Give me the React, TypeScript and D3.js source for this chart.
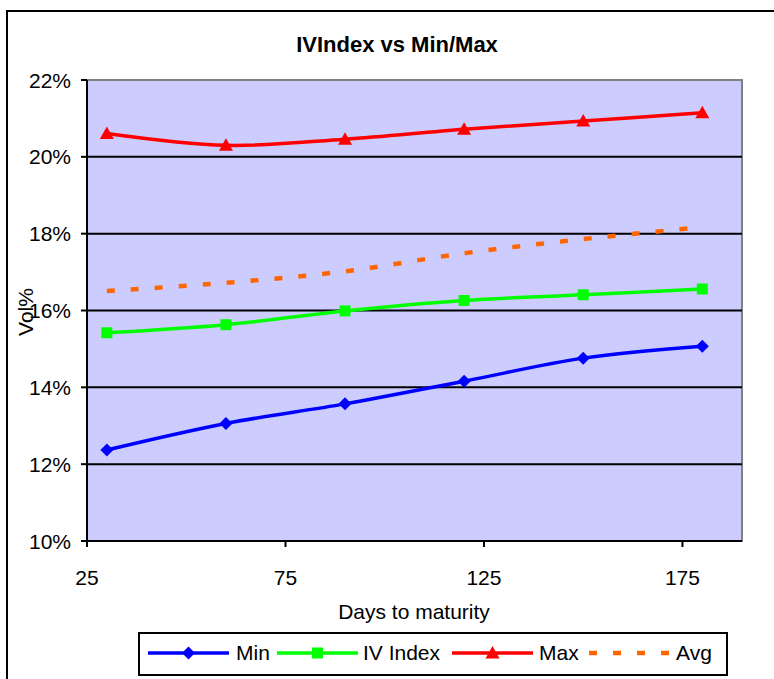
import React from "react";
import * as d3 from "d3";

const days = [30, 60, 90, 120, 150, 180];
const minVals = [12.37, 13.06, 13.57, 14.16, 14.76, 15.07];
const ivVals = [15.42, 15.63, 15.99, 16.26, 16.41, 16.56];
const maxVals = [20.61, 20.3, 20.46, 20.72, 20.93, 21.15];
const avgVals = [16.51, 16.72, 17.02, 17.49, 17.86, 18.17];
const xTicks = [25, 75, 125, 175];
const yTicks = [10, 12, 14, 16, 18, 20, 22];
const title = "IVIndex vs Min/Max";
const xLabel = "Days to maturity";
const yLabel = "Vol%";

const FONT = "'Liberation Sans', Arial, sans-serif";

const series = [
  { name: "Min", values: minVals, color: "#0000FF", marker: "diamond", dashed: false },
  { name: "IV Index", values: ivVals, color: "#00FF00", marker: "square", dashed: false },
  { name: "Max", values: maxVals, color: "#FF0000", marker: "triangle", dashed: false },
  { name: "Avg", values: avgVals, color: "#FF6600", marker: "none", dashed: true },
];

function Marker({ type, x, y, color }: { type: string; x: number; y: number; color: string }) {
  if (type === "diamond") {
    const s = 6.5;
    return <path d={`M${x},${y - s}L${x + s},${y}L${x},${y + s}L${x - s},${y}Z`} fill={color} />;
  }
  if (type === "square") {
    const s = 5.5;
    return <rect x={x - s} y={y - s} width={2 * s} height={2 * s} fill={color} />;
  }
  if (type === "triangle") {
    return <path d={`M${x},${y - 7}L${x + 7},${y + 5.5}L${x - 7},${y + 5.5}Z`} fill={color} />;
  }
  return null;
}

export default function App() {
  const left = 87, right = 742, top = 80, bottom = 541;
  const x = d3.scaleLinear().domain([25, 190]).range([left, right]);
  const y = d3.scaleLinear().domain([10, 22]).range([bottom, top]);
  const line = d3
    .line<number>()
    .x((_, i) => x(days[i]))
    .y((v) => y(v))
    .curve(d3.curveCardinal.tension(0));

  const legendItems = [
    { lx: 148, tx: 236 },
    { lx: 277, tx: 363 },
    { lx: 452, tx: 539 },
    { lx: 589, tx: 676 },
  ];
  const ly = 653;

  return (
    <svg
      width={774}
      height={679}
      style={{ position: "absolute", left: 0, top: 0 }}
      fontFamily={FONT}
    >
      <rect x={0} y={0} width={774} height={679} fill="#FFFFFF" />
      <rect x={7} y={11} width={800} height={700} fill="none" stroke="#000" strokeWidth={2} />
      <text x={397} y={52} textAnchor="middle" fontSize={22} fontWeight="bold">
        {title}
      </text>
      {/* plot area */}
      <rect x={left} y={top} width={right - left} height={bottom - top} fill="#CCCCFF" stroke="#808080" strokeWidth={2} />
      {yTicks.filter((t) => t > 10 && t < 22).map((t) => (
        <line key={t} x1={left} x2={right} y1={y(t)} y2={y(t)} stroke="#000" strokeWidth={2} />
      ))}
      {/* axes */}
      <line x1={left} x2={left} y1={top} y2={bottom} stroke="#000" strokeWidth={2} />
      <line x1={left} x2={right} y1={bottom} y2={bottom} stroke="#000" strokeWidth={2} />
      {yTicks.map((t) => (
        <g key={t}>
          <line x1={left - 6} x2={left} y1={y(t)} y2={y(t)} stroke="#000" strokeWidth={2} />
          <text x={71} y={y(t) + 7.5} textAnchor="end" fontSize={21}>
            {`${t}%`}
          </text>
        </g>
      ))}
      {xTicks.map((t) => (
        <g key={t}>
          <line x1={x(t)} x2={x(t)} y1={bottom} y2={bottom + 6} stroke="#000" strokeWidth={2} />
          <text x={x(t)} y={585} textAnchor="middle" fontSize={21}>
            {t}
          </text>
        </g>
      ))}
      <text x={414} y={619} textAnchor="middle" fontSize={21}>
        {xLabel}
      </text>
      <text transform={`translate(33,312) rotate(-90)`} textAnchor="middle" fontSize={21}>
        {yLabel}
      </text>
      {/* series */}
      {series.map((s) => (
        <g key={s.name}>
          <path
            d={line(s.values) || ""}
            fill="none"
            stroke={s.color}
            strokeWidth={s.dashed ? 4.5 : 3.5}
            strokeDasharray={s.dashed ? "8 16" : undefined}
          />
          {s.values.map((v, i) => (
            <Marker key={i} type={s.marker} x={x(days[i])} y={y(v)} color={s.color} />
          ))}
        </g>
      ))}
      {/* legend */}
      <rect x={139} y={633} width={588} height={42} fill="#FFFFFF" stroke="#000" strokeWidth={2} />
      {series.map((s, i) => {
        const it = legendItems[i];
        return (
          <g key={s.name}>
            <line
              x1={it.lx}
              x2={it.lx + 81}
              y1={ly}
              y2={ly}
              stroke={s.color}
              strokeWidth={s.dashed ? 4.5 : 3.5}
              strokeDasharray={s.dashed ? "8 16" : undefined}
            />
            <Marker type={s.marker} x={it.lx + 40.5} y={ly} color={s.color} />
            <text x={it.tx} y={660} fontSize={21}>
              {s.name}
            </text>
          </g>
        );
      })}
    </svg>
  );
}
